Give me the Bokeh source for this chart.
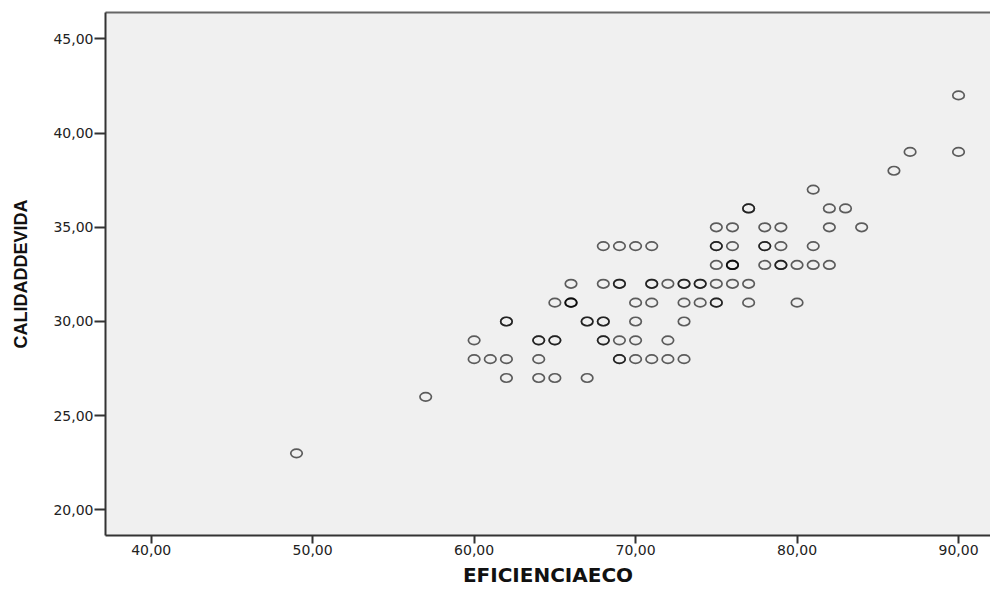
from bokeh.plotting import figure
from bokeh.models import Range1d, FixedTicker, LinearAxis, ColumnDataSource
from bokeh.embed import file_html
from bokeh.resources import INLINE

# Data (duplicated observations repeated)
eficiencia = [49, 57, 60, 60, 61, 62, 62, 62, 62, 64, 64, 64, 64, 65, 65, 65, 65,
              66, 66, 66, 66, 67, 67, 67, 68, 68, 68, 68, 68, 68,
              69, 69, 69, 69, 69, 69, 70, 70, 70, 70, 70,
              71, 71, 71, 71, 71, 72, 72, 72, 73, 73, 73, 73, 73,
              74, 74, 74, 75, 75, 75, 75, 75, 75, 75,
              76, 76, 76, 76, 76, 76, 77, 77, 77, 77,
              78, 78, 78, 78, 79, 79, 79, 79, 80, 80,
              81, 81, 81, 82, 82, 82, 83, 84, 86, 87, 90, 90]
calidad = [23, 26, 29, 28, 28, 30, 30, 28, 27, 29, 29, 28, 27, 31, 29, 29, 27,
           32, 31, 31, 31, 30, 30, 27, 34, 32, 30, 30, 29, 29,
           34, 32, 32, 29, 28, 28, 34, 31, 30, 29, 28,
           34, 32, 32, 31, 28, 32, 29, 28, 32, 32, 31, 30, 28,
           32, 32, 31, 35, 34, 34, 33, 32, 31, 31,
           35, 34, 33, 33, 33, 32, 36, 36, 32, 31,
           35, 34, 34, 33, 35, 34, 33, 33, 33, 31,
           37, 34, 33, 36, 35, 33, 36, 35, 38, 39, 42, 39]

x_ticks = [40, 50, 60, 70, 80, 90]
x_tick_labels = ["40,00", "50,00", "60,00", "70,00", "80,00", "90,00"]
y_ticks = [20, 25, 30, 35, 40, 45]
y_tick_labels = ["20,00", "25,00", "30,00", "35,00", "40,00", "45,00"]

x_title = "EFICIENCIAECO"
y_title = "CALIDADDEVIDA"

src = ColumnDataSource(dict(x=eficiencia, y=calidad))

p = figure(width=990, height=589, output_backend="svg", toolbar_location=None,
           x_range=Range1d(37.17, 91.98), y_range=Range1d(18.64, 46.40),
           min_border_left=105, min_border_right=0, min_border_top=12,
           min_border_bottom=54)
p.background_fill_color = "#F0F0F0"
p.border_fill_color = "white"
p.outline_line_color = None
p.grid.visible = False

p.ellipse(x="x", y="y", source=src, width=11.5, height=8.5,
          width_units="screen", height_units="screen",
          fill_color=None, line_color="black", line_alpha=0.62, line_width=1.7)

axis_color = "#333333"
label_font = "DejaVu Sans"

xa = p.xaxis[0]
xa.ticker = FixedTicker(ticks=x_ticks)
xa.major_label_overrides = {t: l for t, l in zip(x_ticks, x_tick_labels)}
xa.minor_tick_line_color = None
xa.major_tick_out = 8
xa.major_tick_in = 0
xa.major_tick_line_width = 2
xa.major_tick_line_color = axis_color
xa.axis_line_color = axis_color
xa.axis_line_width = 2
xa.major_label_text_font = label_font
xa.major_label_text_font_size = "14px"
xa.major_label_text_color = "#222222"
xa.major_label_standoff = 1
xa.axis_label = x_title
xa.axis_label_text_font = label_font
xa.axis_label_text_font_style = "bold"
xa.axis_label_text_font_size = "20px"
xa.axis_label_text_color = "#111111"
xa.axis_label_standoff = 5

ya = p.yaxis[0]
ya.ticker = FixedTicker(ticks=y_ticks)
ya.major_label_overrides = {t: l for t, l in zip(y_ticks, y_tick_labels)}
ya.minor_tick_line_color = None
ya.major_tick_out = 11
ya.major_tick_in = 0
ya.major_tick_line_width = 2
ya.major_tick_line_color = axis_color
ya.axis_line_color = axis_color
ya.axis_line_width = 2
ya.major_label_text_font = label_font
ya.major_label_text_font_size = "14px"
ya.major_label_text_color = "#222222"
ya.major_label_standoff = 1
ya.axis_label = y_title
ya.axis_label_text_font = "Liberation Sans"
ya.axis_label_text_font_style = "bold"
ya.axis_label_text_font_size = "18px"
ya.axis_label_text_color = "#111111"
ya.axis_label_standoff = 19

top = LinearAxis(ticker=FixedTicker(ticks=[]), axis_line_color="#666666",
                 axis_line_width=2, major_tick_line_color=None,
                 minor_tick_line_color=None, major_label_text_font_size="0px")
p.add_layout(top, "above")

open("out.html", "w").write(file_html(p, INLINE))
